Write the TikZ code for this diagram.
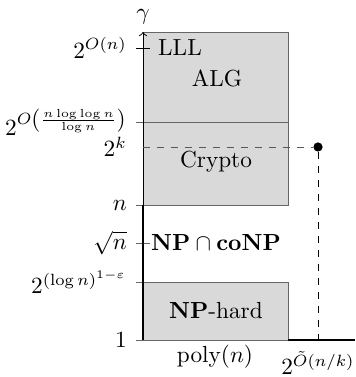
\documentclass[tikz,border=0pt]{standalone}
\usepackage{amsmath,amssymb}
\begin{document}
\begin{tikzpicture}[x=0.0151cm,y=0.0151cm]
      \useasboundingbox (-143,-37) rectangle (212,340);
      \tikzset{regbox/.style={draw=gray!80!black,fill=gray!30},
        tick/.style={draw=gray!80!black}}
      % regions
      \begin{scope}[every path/.style={regbox}]
        \path (0,218) rectangle (145,308);
        \path (0,135) rectangle (145,218);
        \path (0,0) rectangle (145,58);
      \end{scope}
      % axis
      \coordinate (o) at (0,0);
      \coordinate (top) at (0,308);
      \coordinate (xend) at (212,0);
      \draw[->] (o) -- (top);
      \node (gamma) at (0,323) {\(\gamma\)};
      % ticks and left labels
      \begin{scope}[every node/.style={anchor=east}]
        \node (t_1) at (-8,0) {\(1\)};
        \node (t_eps) at (-8,58) {\(2^{(\log n)^{1-\varepsilon}}\)};
        \node (t_sqrt) at (-8,97) {\(\sqrt{n}\)};
        \node (t_n) at (-8,135) {\(n\)};
        \node (t_k) at (-8,193) {\(2^k\)};
        \node (t_ll) at (-8,218) {\(2^{O\left(\frac{n\log\log n}{\log n}\right)}\)};
        \node (t_on) at (-8,292) {\(2^{O(n)}\)};
      \end{scope}
      \begin{scope}[every path/.style={tick}]
        \path (-7,0) -- (0,0);
        \path (-7,58) -- (0,58);
        \path (-7,97) -- (7,97);
        \path (-7,135) -- (0,135);
        \path (-7,218) -- (0,218);
      \end{scope}
      \draw (-7,292) -- (7,292);
      % thick boundary
      \draw[line width=1.2pt] (0,0) -- (0,135);
      \draw[line width=1.2pt] (145,0) -- (xend);
      % the 2^k point
      \node[circle,fill,inner sep=1.4pt] (pt) at (175,193) {};
      \coordinate (k_ax) at (0,193);
      \coordinate (k_bot) at (175,-6);
      \draw[dashed,gray!70!black] (k_ax) -- (pt);
      \draw[dashed] (pt) -- (k_bot);
      % region labels
      \node (lll) at (37,292) {LLL};
      \node (alg) at (74,262) {ALG};
      \node (crypto) at (73,178) {Crypto};
      \node (npco) at (73,97) {\(\mathbf{NP}\cap\mathbf{coNP}\)};
      \node (nph) at (73,29) {\(\mathbf{NP}\)-hard};
      % bottom labels
      \node (poly) at (72,-17) {poly\((n)\)};
      \node (sub) at (175,-23) {\(2^{\tilde{O}(n/k)}\)};
\end{tikzpicture}
\end{document}
